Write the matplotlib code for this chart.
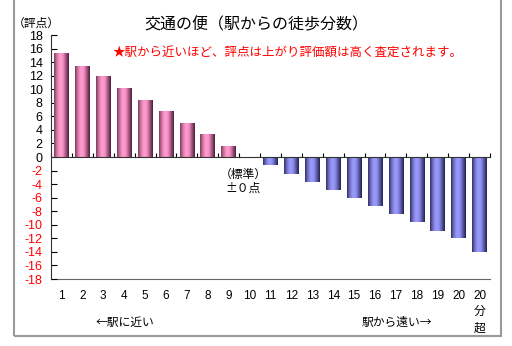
import matplotlib
matplotlib.use("Agg")
import matplotlib.pyplot as plt
import numpy as np
from matplotlib.colors import LinearSegmentedColormap
from matplotlib.patches import Rectangle

plt.rcParams['font.family'] = ['Noto Sans CJK JP', 'DejaVu Sans']

categories = [str(i) for i in range(1, 21)] + ['20\n分\n超']
scores = [15.3, 13.5, 11.9, 10.2, 8.4, 6.75, 5.0, 3.4, 1.65, 0,
          -1.2, -2.45, -3.7, -4.85, -6.1, -7.25, -8.4, -9.6, -10.9, -12.0, -13.95]
yticks = list(range(-18, 19, 2))

pink = LinearSegmentedColormap.from_list('pink', ['#7a3a5a', '#d77aa8', '#ff9fd0', '#f590c4', '#a55582', '#4a1e34'])
blue = LinearSegmentedColormap.from_list('blue', ['#303068', '#7474c8', '#9c9cff', '#9090f0', '#5a5aa8', '#22224a'])

fig = plt.figure(figsize=(5.12, 3.46), dpi=100)
ax = fig.add_axes([51/512, 1-279/346, 439/512, 244/346])

x = np.arange(1, len(scores) + 1)
bars = ax.bar(x, scores, width=0.7, color='none', edgecolor='none')
grad = np.linspace(0, 1, 64).reshape(1, -1)
for b, v in zip(bars, scores):
    if v == 0:
        continue
    cmap = pink if v > 0 else blue
    x0 = b.get_x()
    im = ax.imshow(grad, cmap=cmap, aspect='auto', extent=[x0, x0 + b.get_width(), 0, v],
                   origin='lower', interpolation='bilinear', zorder=2)
    im.set_clip_path(b)

ax.set_xlim(0.5, len(scores) + 0.5)
ax.set_ylim(-18, 18)
ax.set_yticks(yticks)
ax.set_yticklabels([str(t) for t in yticks], fontsize=9, family=['Liberation Sans', 'DejaVu Sans'])
for lab, t in zip(ax.get_yticklabels(), yticks):
    lab.set_color('red' if t < 0 else 'black')
ax.tick_params(axis='y', direction='in', length=4, width=0.8, pad=6)

for s in ['top', 'right']:
    ax.spines[s].set_visible(False)
ax.spines['left'].set_color('#333333')
ax.spines['bottom'].set_position(('data', 0))
ax.spines['bottom'].set_color('#333333')
ax.set_xticks(np.arange(0.5, len(scores) + 1, 1))
ax.set_xticklabels([])
ax.tick_params(axis='x', direction='in', length=3, width=0.8)

sec = ax.secondary_xaxis('bottom')
sec.set_xticks(x)
sec.set_xticklabels(categories, fontsize=8.5, linespacing=1.45, family=['Liberation Sans', 'Noto Sans CJK JP'])
sec.tick_params(length=0, pad=8)
sec.spines['bottom'].set_color('#666666')

ax.text(9.7, -2.5, '（標準）', ha='center', va='center', fontsize=8.5)
ax.text(9.7, -4.55, '±０点', ha='center', va='center', fontsize=8.5)

fig.text(256/512, 1-25/346, '交通の便（駅からの徒歩分数）', ha='center', va='center', fontsize=11.5)
fig.text(288/512, 1-53/346, '★駅から近いほど、評点は上がり評価額は高く査定されます。',
         ha='center', va='center', fontsize=9, color='red')
fig.text(36/512, 1-23/346, '（評点）', ha='center', va='center', fontsize=8.5)
fig.text(125/512, 1-322/346, '←駅に近い', ha='center', va='center', fontsize=8.5)
fig.text(397/512, 1-322/346, '駅から遠い→', ha='center', va='center', fontsize=8.5)

fig.patches.append(Rectangle((14/512, 1-336/346), 487/512, 346/346, transform=fig.transFigure,
                             fill=False, edgecolor='#999999', linewidth=1.5))

fig.savefig('out.png', dpi=100)
